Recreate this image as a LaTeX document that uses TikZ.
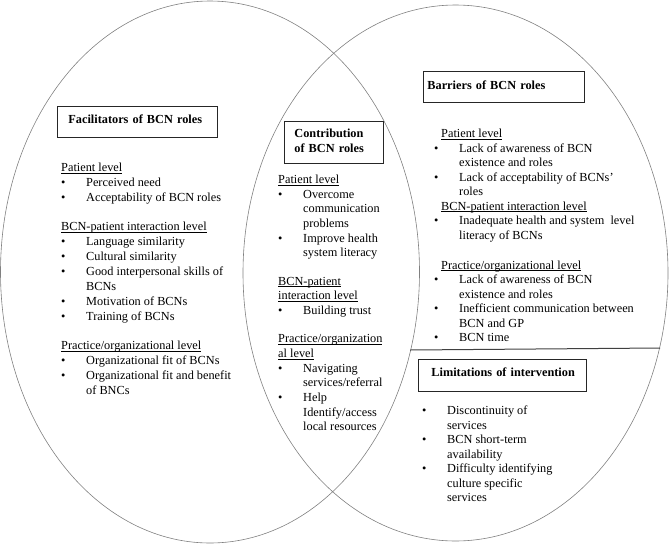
\documentclass[tikz,border=0pt]{standalone}
\usepackage{fontspec}
\setmainfont{Liberation Serif}
\newcommand\Bul[2]{\makebox[#2][l]{\hspace*{#1}\makebox[0pt]{\textbullet}}}
\newcommand\Ul[1]{\setbox0\hbox{#1}\rlap{\rule[-1.8pt]{\wd0}{0.55pt}}\box0}
\newcommand\Hd[1]{\multicolumn{2}{@{}l@{}}{\Ul{#1}}}
\begin{document}
\begin{tikzpicture}[x=1pt,y=-1pt,
  venn/.style={draw=black!50, line width=0.6pt},
  titlebox/.style={draw=black!85, line width=0.8pt, anchor=north west, inner ysep=0pt,
    font=\fontsize{12.3}{15}\selectfont\bfseries, align=left, text height=8.4pt},
  txt/.style={anchor=north west, inner sep=0pt},
  sepline/.style={draw=black!75, line width=1pt}]
\useasboundingbox (0,0) rectangle (669,544);
% Venn ellipses
\draw[venn] (210,272) ellipse [x radius=209.5pt, y radius=271pt];
\draw[venn] (455.5,273) ellipse [x radius=212.5pt, y radius=268pt];
% separator line
\coordinate (hl) at (410,350);
\coordinate (hr) at (660,348);
\draw[sepline] (hl) -- (hr);
% title boxes
\node[titlebox, inner xsep=5pt, text width=150pt, minimum height=31pt, text depth=4.8pt] (tfac) at (57,106) {\hspace*{6pt}Facilitators of BCN roles};
\node[titlebox, inner xsep=5pt, text width=89pt, minimum height=42pt, text depth=17.8pt] (tcon) at (284,121) {\hspace*{5pt}Contribution\\\hspace*{5pt}of BCN roles};
\node[titlebox, inner xsep=4pt, text width=153pt, minimum height=31pt, text depth=3pt] (tbar) at (423,71) {Barriers of BCN roles};
\node[titlebox, inner xsep=4pt, text width=160pt, minimum height=32pt, text depth=5.8pt] (tlim) at (418,359) {\hspace*{9pt}Limitations of intervention};
% facilitators text
\node[txt, font=\fontsize{12.3}{15}\selectfont] (fac) at (61,160.8) {\begin{tabular}{@{}l@{}l@{}}
\Hd{Patient level}\\
\Bul{2pt}{25pt} & Perceived need\\
\Bul{2pt}{25pt} & Acceptability of BCN roles\\[14pt]
\Hd{BCN-patient interaction level}\\
\Bul{2pt}{25pt} & Language similarity\\
\Bul{2pt}{25pt} & Cultural similarity\\
\Bul{2pt}{25pt} & Good interpersonal skills of\\
 & BCNs\\
\Bul{2pt}{25pt} & Motivation of BCNs\\
\Bul{2pt}{25pt} & Training of BCNs\\[14pt]
\Hd{Practice/organizational level}\\
\Bul{2pt}{25pt} & Organizational fit of BCNs\\
\Bul{2pt}{25pt} & Organizational fit and benefit\\
 & of BNCs
\end{tabular}};
% contribution text
\node[txt, font=\fontsize{12.3}{14.7}\selectfont] (con) at (278,173) {\begin{tabular}{@{}l@{}l@{}}
\Hd{Patient level}\\
\Bul{2pt}{25pt} & Overcome\\
 & communication\\
 & problems\\
\Bul{2pt}{25pt} & Improve health\\
 & system literacy\\[13.5pt]
\Hd{BCN-patient}\\
\Hd{interaction level}\\
\Bul{2pt}{25pt} & Building trust\\[13.5pt]
\Hd{Practice/organization}\\
\Hd{al level}\\
\Bul{2pt}{25pt} & Navigating\\
 & services/referral\\
\Bul{2pt}{25pt} & Help\\
 & Identify/access\\
 & local resources
\end{tabular}};
% barriers text
\node[txt, font=\fontsize{12.3}{14.5}\selectfont] (bar) at (441,127.15) {\begin{tabular}{@{}l@{}l@{}}
\Hd{Patient level}\\
\Bul{-5pt}{18pt} & Lack of awareness of BCN\\
 & existence and roles\\
\Bul{-5pt}{18pt} & Lack of acceptability of BCNs'\\
 & roles\\
\Hd{BCN-patient interaction level}\\
\Bul{-5pt}{18pt} & Inadequate health and system~~level\\
 & literacy of BCNs\\[15.5pt]
\Hd{Practice/organizational level}\\
\Bul{-5pt}{18pt} & Lack of awareness of BCN\\
 & existence and roles\\
\Bul{-5pt}{18pt} & Inefficient communication between\\
 & BCN and GP\\
\Bul{-5pt}{18pt} & BCN time
\end{tabular}};
% limitations text
\node[txt, font=\fontsize{12.3}{14.5}\selectfont] (lim) at (424,404.15) {\begin{tabular}{@{}l@{}l@{}}
\Bul{0pt}{23pt} & Discontinuity of\\
 & services\\
\Bul{0pt}{23pt} & BCN short-term\\
 & availability\\
\Bul{0pt}{23pt} & Difficulty identifying\\
 & culture specific\\
 & services
\end{tabular}};
\end{tikzpicture}
\end{document}
